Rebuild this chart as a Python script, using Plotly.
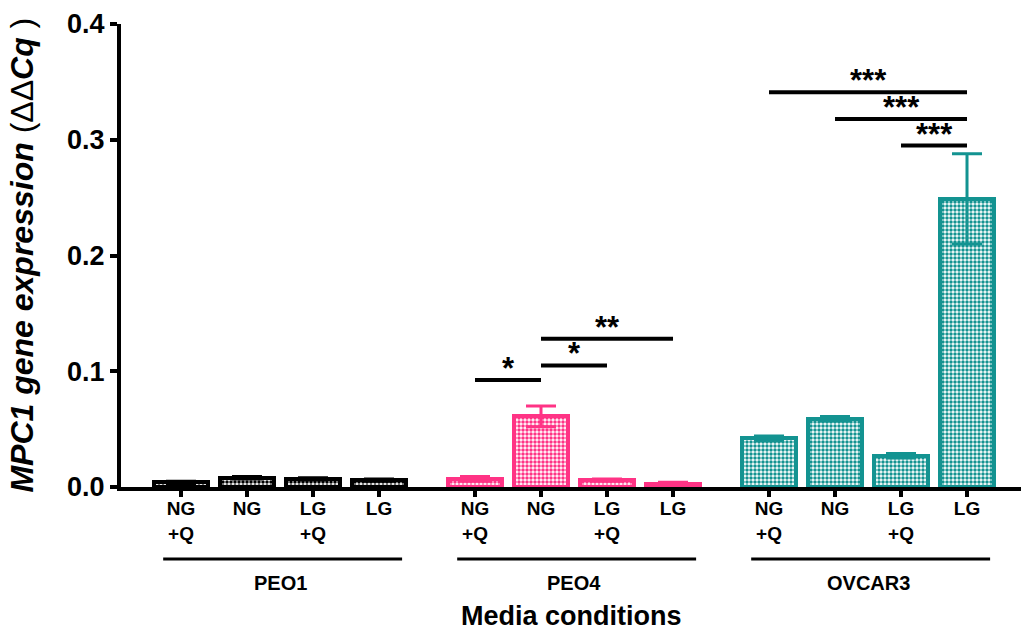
import plotly.graph_objects as go

# ---------------- data ----------------
groups = ["PEO1", "PEO4", "OVCAR3"]
conditions = ["NG<br>+Q", "NG", "LG<br>+Q", "LG"]

peo1_mean = [0.004, 0.008, 0.007, 0.006]
peo1_err = [0.001, 0.001, 0.001, 0.001]
peo4_mean = [0.007, 0.061, 0.006, 0.003]
peo4_err = [0.002, 0.009, 0.001, 0.001]
ovcar3_mean = [0.042, 0.059, 0.027, 0.249]
ovcar3_err = [0.002, 0.002, 0.002, 0.039]

y_ticks = [0.0, 0.1, 0.2, 0.3, 0.4]
y_tick_labels = ["0.0", "0.1", "0.2", "0.3", "0.4"]

# significance brackets
sig_group = ["PEO4", "PEO4", "PEO4", "OVCAR3", "OVCAR3", "OVCAR3"]
sig_from = [0, 1, 1, 0, 1, 2]
sig_to = [1, 2, 3, 3, 3, 3]
sig_y = [0.0925, 0.105, 0.128, 0.341, 0.318, 0.295]
sig_label = ["*", "*", "**", "***", "***", "***"]

# ---------------- style ----------------
colors = {"PEO1": "#000000", "PEO4": "#FF3385", "OVCAR3": "#139391"}
group_gap = 0.4545
FONT = "Liberation Sans, Arial, sans-serif"

means = {"PEO1": peo1_mean, "PEO4": peo4_mean, "OVCAR3": ovcar3_mean}
errs = {"PEO1": peo1_err, "PEO4": peo4_err, "OVCAR3": ovcar3_err}


def xpos(gi, i):
    return gi * (len(conditions) + group_gap) + i


fig = go.Figure()
all_x, all_text = [], []
for gi, g in enumerate(groups):
    xs = [xpos(gi, i) for i in range(len(conditions))]
    all_x += xs
    all_text += conditions
    fig.add_trace(go.Bar(
        x=xs, y=means[g], width=0.83,
        marker=dict(
            color="white",
            line=dict(color=colors[g], width=4),
            pattern=dict(shape=".", fgcolor=colors[g], bgcolor="white",
                         size=4, solidity=0.6, fillmode="replace"),
        ),
        error_y=dict(type="data", array=errs[g], visible=True,
                     color=colors[g], thickness=3, width=15),
        showlegend=False,
    ))

# significance lines and stars
gidx = {g: i for i, g in enumerate(groups)}
for g, a, b, yv, lab in zip(sig_group, sig_from, sig_to, sig_y, sig_label):
    x0 = xpos(gidx[g], a)
    x1 = xpos(gidx[g], b)
    fig.add_shape(type="line", xref="x", yref="y", x0=x0, x1=x1, y0=yv, y1=yv,
                  line=dict(color="black", width=4))
    fig.add_annotation(x=(x0 + x1) / 2, y=yv, xref="x", yref="y", text=lab,
                       showarrow=False, yanchor="bottom", yshift=-8,
                       font=dict(family=FONT, size=31, color="black", weight="bold"))

# group brackets and labels
for gi, g in enumerate(groups):
    x0 = xpos(gi, 0) - 0.27
    x1 = xpos(gi, len(conditions) - 1) + 0.35
    fig.add_shape(type="line", xref="x", yref="paper", x0=x0, x1=x1,
                  y0=-0.1555, y1=-0.1555, line=dict(color="black", width=3))
    fig.add_annotation(x=(xpos(gi, 0) + xpos(gi, len(conditions) - 1)) / 2,
                       y=-0.207, xref="x", yref="paper", text=g, showarrow=False,
                       xanchor="center", yanchor="middle",
                       font=dict(family=FONT, size=20, color="black", weight="bold"))

fig.add_annotation(x=0.5, y=-0.278, xref="paper", yref="paper",
                   xanchor="center", yanchor="middle",
                   text="Media conditions", showarrow=False,
                   font=dict(family=FONT, size=27, color="black", weight="bold"))

fig.add_annotation(x=-0.111, y=0.5, xref="paper", yref="paper", textangle=-90,
                   xanchor="center", yanchor="middle",
                   text="<b><i>MPC1 gene expression</i></b> (ΔΔ<b><i>Cq</i></b> )",
                   showarrow=False,
                   font=dict(family=FONT, size=32, color="black"))

fig.update_layout(
    width=1021, height=630,
    margin=dict(l=121, r=0, t=24, b=143),
    paper_bgcolor="white", plot_bgcolor="white",
    bargap=0,
    font=dict(family=FONT, color="black"),
)
fig.update_xaxes(
    range=[-0.909, 12.727], tickvals=all_x, ticktext=all_text,
    showline=True, linecolor="black", linewidth=4,
    ticks="outside", ticklen=6, tickwidth=4, tickcolor="black",
    showgrid=False, zeroline=False, automargin=False,
    ticklabelstandoff=-5,
    tickfont=dict(family=FONT, size=19, color="black", weight="bold"),
)
fig.update_yaxes(
    range=[0, 0.4], tickvals=y_ticks, ticktext=y_tick_labels,
    showline=True, linecolor="black", linewidth=4,
    ticks="outside", ticklen=7, tickwidth=4, tickcolor="black",
    showgrid=False, zeroline=False, automargin=False,
    tickfont=dict(family=FONT, size=27, color="black", weight="bold"),
)

fig.write_html("out.html", config={"displayModeBar": False},
               post_script="document.body.style.margin='0';document.body.style.overflow='hidden';")
